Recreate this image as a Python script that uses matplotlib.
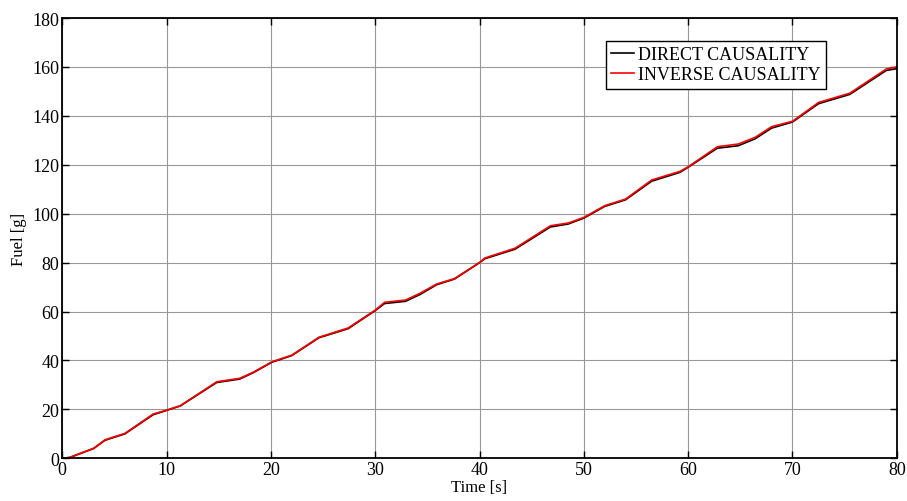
import numpy as np
import matplotlib
matplotlib.use("Agg")
import matplotlib.pyplot as plt

# values
time_s = [0, 0.7, 3.0, 4.1, 6.0, 8.7, 10.0, 11.3, 14.8, 17.0, 18.3, 20.1, 22.0,
          24.6, 27.4, 30.0, 30.9, 32.9, 34.3, 35.9, 37.6, 40.0, 40.5, 43.4, 46.8,
          48.5, 50.0, 52.0, 54.0, 56.5, 59.2, 60.0, 62.8, 64.8, 66.4, 68.0, 70.0,
          72.5, 75.5, 79.0, 80.0]
fuel_inverse = [0, 0.4, 4.1, 7.6, 10.2, 18.1, 19.7, 21.5, 31.3, 32.7, 35.2, 39.5,
                42.2, 49.5, 53.3, 60.6, 63.8, 64.7, 67.5, 71.3, 73.5, 80.1, 81.9,
                85.9, 95.1, 96.2, 98.5, 103.3, 106.0, 113.8, 117.3, 119.2, 127.4,
                128.5, 131.2, 135.6, 137.8, 145.5, 149.3, 159.2, 160.0]
fuel_direct = [0, 0.3, 4.0, 7.4, 10.0, 17.8, 19.6, 21.4, 31.0, 32.4, 35.0, 39.3,
               42.0, 49.3, 53.0, 60.4, 63.3, 64.2, 67.0, 71.0, 73.3, 80.0, 81.6,
               85.5, 94.6, 95.8, 98.2, 103.0, 105.7, 113.3, 116.9, 119.0, 126.8,
               127.8, 130.6, 135.0, 137.5, 145.0, 148.8, 158.6, 159.3]
x_ticks = [0, 10, 20, 30, 40, 50, 60, 70, 80]
y_ticks = [0, 20, 40, 60, 80, 100, 120, 140, 160, 180]

plt.rcParams['font.family'] = ['Liberation Serif', 'DejaVu Serif']
plt.rcParams['font.size'] = 13

fig = plt.figure(figsize=(9.07, 5.02), dpi=100)
ax = fig.add_axes([0.0687, 0.085, 0.92, 0.877])

ax.plot(time_s, fuel_direct, color='black', lw=1.2, label='DIRECT CAUSALITY')
ax.plot(time_s, fuel_inverse, color='red', lw=1.2, label='INVERSE CAUSALITY')

ax.set_xlim(0, 80)
ax.set_ylim(0, 180)
ax.set_xticks(x_ticks)
ax.set_yticks(y_ticks)
ax.grid(True, color='0.6', lw=0.8)
ax.set_axisbelow(True)

ax.tick_params(direction='in', top=True, right=True, length=5, width=1,
               labelsize=13, pad=2)
for sp in ax.spines.values():
    sp.set_linewidth(1.3)

ax.set_xlabel('Time [s]', fontsize=12, labelpad=1)
ax.set_ylabel('Fuel [g]', fontsize=12, labelpad=4)

leg = ax.legend(loc='upper left', bbox_to_anchor=(0.651, 0.948), fontsize=13,
                fancybox=False, framealpha=1, edgecolor='black',
                handlelength=1.3, handletextpad=0.2, borderpad=0.3,
                labelspacing=0.15, borderaxespad=0)
leg.get_frame().set_linewidth(1.0)

fig.savefig('out.png', dpi=100)
